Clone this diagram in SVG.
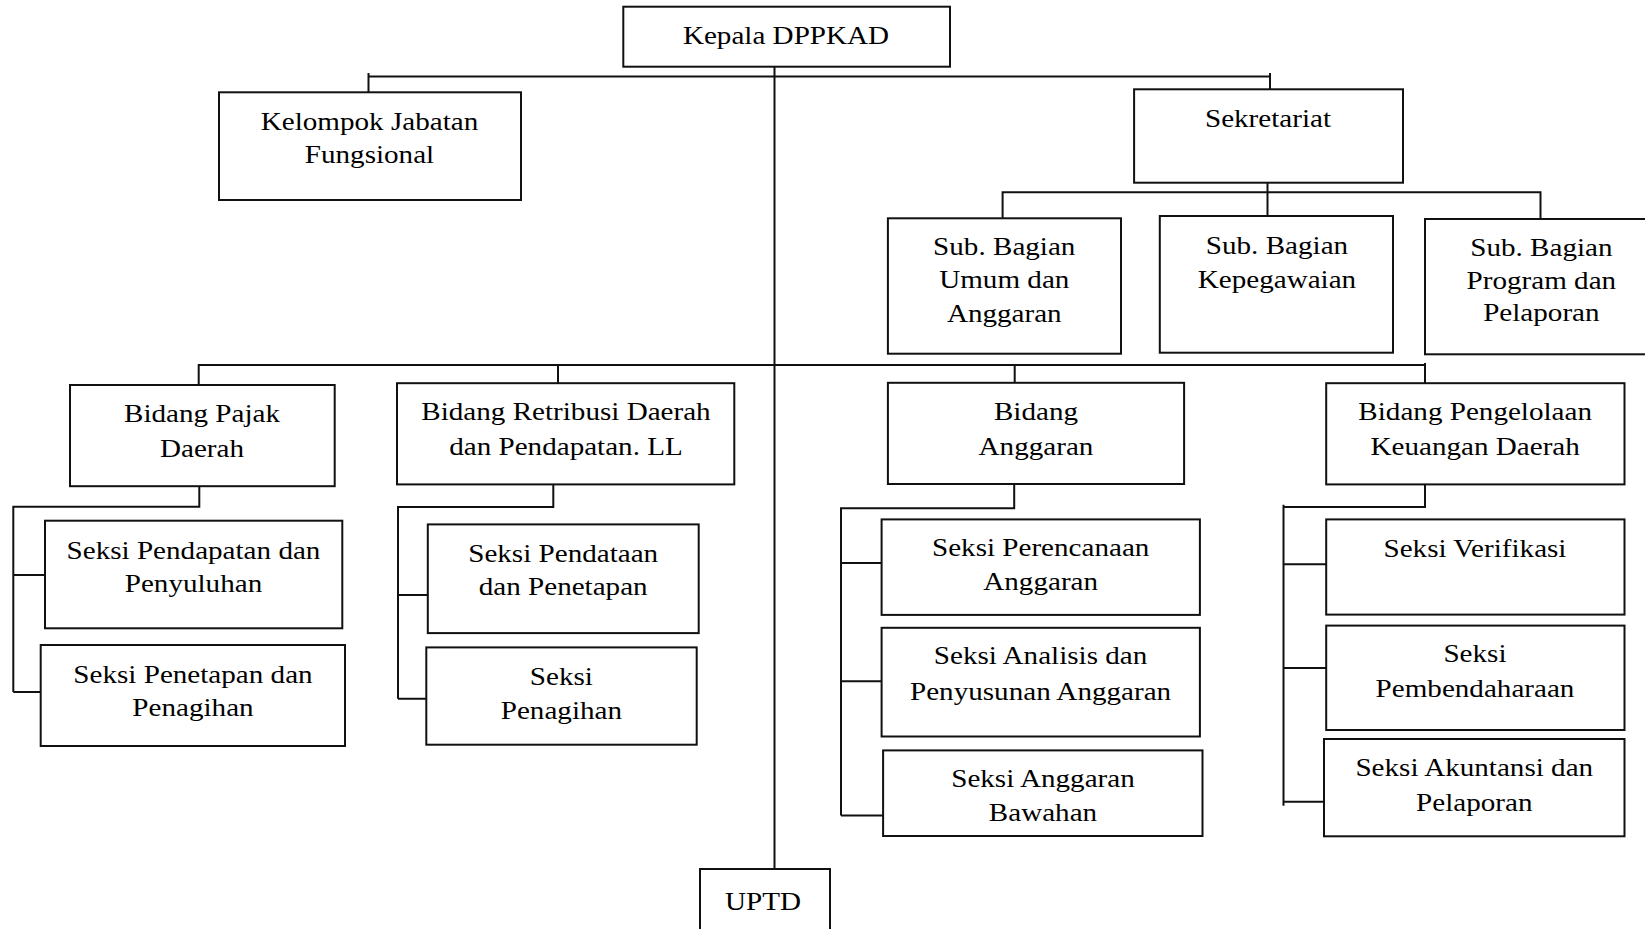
<svg xmlns="http://www.w3.org/2000/svg" width="1645" height="929" viewBox="0 0 1645 929">
<style>
.b{fill:#fff;stroke:#111;stroke-width:2}
.c{fill:none;stroke:#111;stroke-width:2}
.t{font-family:"Liberation Serif","Times New Roman",serif;font-size:26px;text-anchor:middle;fill:#000;transform-box:fill-box;transform-origin:center;transform:scaleX(1.12)}
</style>
<rect width="1645" height="929" fill="#fff"/>
<g id="connectors">
<path class="c" d="M774.5,66.7 V869"/>
<path class="c" d="M368.5,92.3 V73 M368.5,76.5 H1270 M1270,73 V89.3"/>
<path class="c" d="M1267.5,182.7 V216 M1002.6,218.3 V192.3 H1540.5 V219"/>
<path class="c" d="M198.7,385 V365 H1425 M558,365 V383 M1014.7,365 V383 M1425,363 V383.3"/>
<path class="c" d="M199.3,485.7 V506.7 H13.3 V692 M13.3,575 H45 M13.3,692 H40.7"/>
<path class="c" d="M553.3,484.4 V506.9 H398 V698.7 M398,595 H427.8 M398,698.7 H426.3"/>
<path class="c" d="M1014.2,484 V508.3 H841 V815.6 M841,562.9 H881.6 M841,681.2 H881.6 M841,815.6 H883.1"/>
<path class="c" d="M1425,484.4 V506.9 H1283.5 M1283.5,504.8 V805.7 M1283.5,564.3 H1326.2 M1283.5,668 H1326.2 M1283.5,801.7 H1324"/>
</g>
<g id="kepala"><rect class="b" x="623.3" y="6.7" width="326.7" height="60"/><text class="t" x="786" y="44.3">Kepala DPPKAD</text></g>
<g id="kelompok"><rect class="b" x="219" y="92.3" width="302" height="107.7"/><text class="t" x="369.5" y="130">Kelompok Jabatan</text><text class="t" x="369.5" y="163">Fungsional</text></g>
<g id="sekretariat"><rect class="b" x="1134.1" y="89.3" width="268.9" height="93.4"/><text class="t" x="1268" y="127">Sekretariat</text></g>
<g id="sub-umum"><rect class="b" x="887.9" y="218.3" width="233.1" height="135.4"/><text class="t" x="1004.3" y="255">Sub. Bagian</text><text class="t" x="1004.3" y="288.3">Umum dan</text><text class="t" x="1004.3" y="321.7">Anggaran</text></g>
<g id="sub-kepegawaian"><rect class="b" x="1159.8" y="216" width="233.2" height="136.7"/><text class="t" x="1277" y="254.3">Sub. Bagian</text><text class="t" x="1277" y="288">Kepegawaian</text></g>
<g id="sub-program"><rect class="b" x="1425" y="219" width="232" height="135.3"/><text class="t" x="1541.4" y="255.7">Sub. Bagian</text><text class="t" x="1541.4" y="289">Program dan</text><text class="t" x="1541.4" y="321">Pelaporan</text></g>
<g id="bidang-pajak"><rect class="b" x="70" y="385" width="264.7" height="101.2"/><text class="t" x="202" y="421.7">Bidang Pajak</text><text class="t" x="202" y="456.6">Daerah</text></g>
<g id="bidang-retribusi"><rect class="b" x="397" y="383.2" width="337.3" height="101.2"/><text class="t" x="566" y="419.9">Bidang Retribusi Daerah</text><text class="t" x="566" y="454.8">dan Pendapatan. LL</text></g>
<g id="bidang-anggaran"><rect class="b" x="887.9" y="382.8" width="296.2" height="101.2"/><text class="t" x="1036" y="419.9">Bidang</text><text class="t" x="1036" y="454.8">Anggaran</text></g>
<g id="bidang-pengelolaan"><rect class="b" x="1326.2" y="383.2" width="298.3" height="101.2"/><text class="t" x="1475.2" y="419.9">Bidang Pengelolaan</text><text class="t" x="1475.2" y="454.8">Keuangan Daerah</text></g>
<g id="seksi-pendapatan"><rect class="b" x="45" y="520.7" width="297.3" height="107.6"/><text class="t" x="193.5" y="559.3">Seksi Pendapatan dan</text><text class="t" x="193.5" y="591.7">Penyuluhan</text></g>
<g id="seksi-penetapan"><rect class="b" x="40.7" y="645" width="304.3" height="101"/><text class="t" x="193" y="683.3">Seksi Penetapan dan</text><text class="t" x="193" y="716">Penagihan</text></g>
<g id="seksi-pendataan"><rect class="b" x="427.8" y="524.4" width="270.9" height="108.7"/><text class="t" x="563.2" y="562.5">Seksi Pendataan</text><text class="t" x="563.2" y="595.3">dan Penetapan</text></g>
<g id="seksi-penagihan"><rect class="b" x="426.3" y="647.4" width="270.4" height="97.3"/><text class="t" x="561.4" y="684.8">Seksi</text><text class="t" x="561.4" y="719.4">Penagihan</text></g>
<g id="seksi-perencanaan"><rect class="b" x="881.6" y="519.4" width="318.3" height="95.5"/><text class="t" x="1040.7" y="556">Seksi Perencanaan</text><text class="t" x="1040.7" y="590.3">Anggaran</text></g>
<g id="seksi-analisis"><rect class="b" x="881.6" y="627.8" width="318.3" height="108.7"/><text class="t" x="1040.6" y="664.5">Seksi Analisis dan</text><text class="t" x="1040.6" y="699.8">Penyusunan Anggaran</text></g>
<g id="seksi-bawahan"><rect class="b" x="883.1" y="750.4" width="319.4" height="85.6"/><text class="t" x="1043" y="787.1">Seksi Anggaran</text><text class="t" x="1043" y="821">Bawahan</text></g>
<g id="seksi-verifikasi"><rect class="b" x="1326.2" y="519.4" width="298.3" height="95.2"/><text class="t" x="1475" y="557.2">Seksi Verifikasi</text></g>
<g id="seksi-pembendaharaan"><rect class="b" x="1326.2" y="625.6" width="298.3" height="104.4"/><text class="t" x="1475" y="662.3">Seksi</text><text class="t" x="1475" y="697.3">Pembendaharaan</text></g>
<g id="seksi-akuntansi"><rect class="b" x="1324" y="739" width="300.5" height="97.3"/><text class="t" x="1474.3" y="776.4">Seksi Akuntansi dan</text><text class="t" x="1474.3" y="811.3">Pelaporan</text></g>
<g id="uptd"><rect class="b" x="700" y="869" width="130" height="70"/><text class="t" x="763" y="910">UPTD</text></g>
</svg>
